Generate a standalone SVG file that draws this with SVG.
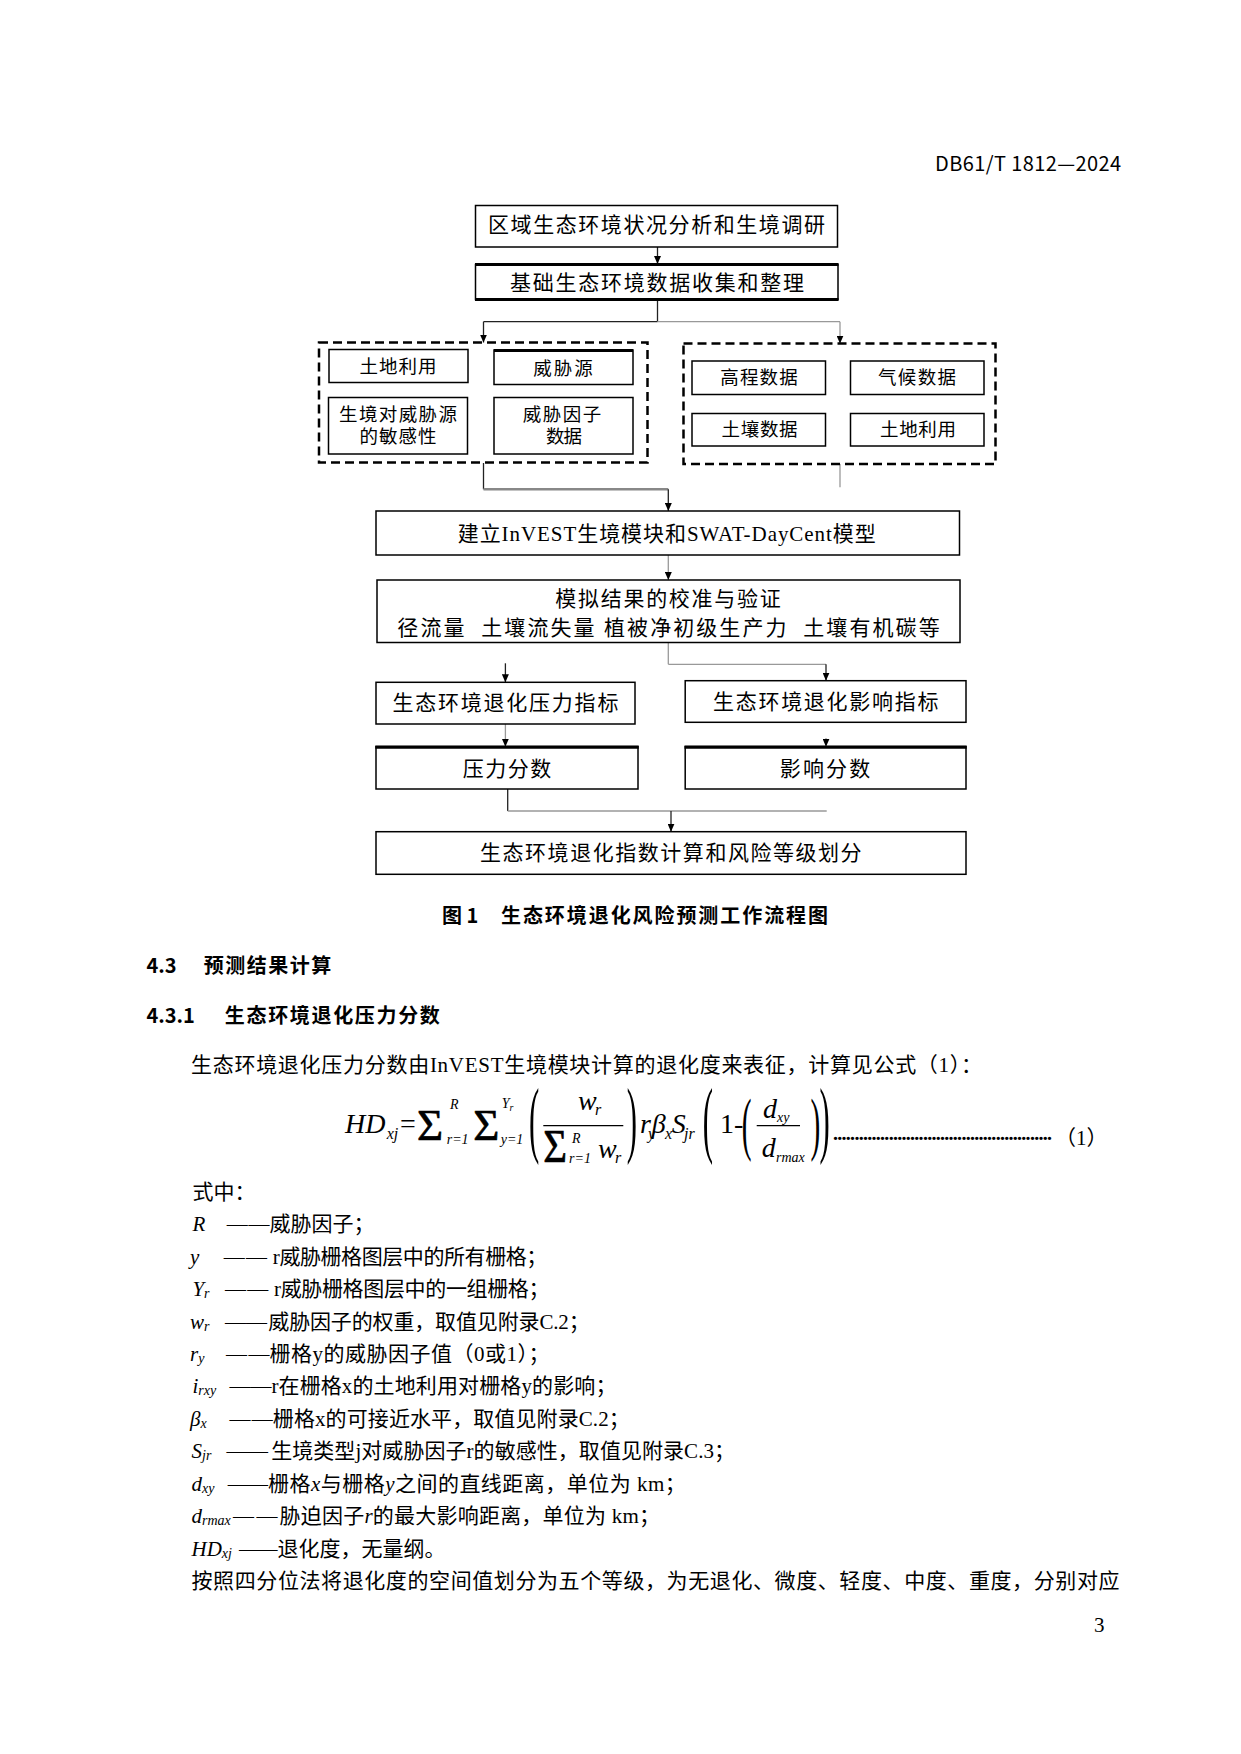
<svg xmlns="http://www.w3.org/2000/svg" width="1241" height="1754" viewBox="0 0 1241 1754">
<defs>
<style>
.bx{fill:#fff;stroke:#000;stroke-width:1.5}
.thick{stroke:#000;stroke-width:3.2}
.dsh{fill:none;stroke:#000;stroke-width:2.5;stroke-dasharray:9 5}
.t{font-family:"Liberation Serif","Noto Sans CJK SC",serif;font-size:21px;fill:#000;dominant-baseline:central}
.ti{font-family:"Liberation Serif","Noto Sans CJK SC",serif;font-size:18.5px;fill:#000;dominant-baseline:central}
.mid{text-anchor:middle}
.h{font-family:"Noto Sans CJK SC","Liberation Sans",sans-serif;font-size:20px;fill:#000;dominant-baseline:central}
.b{font-weight:bold}
.it{font-style:italic}
.sym{font-family:"Liberation Serif",serif;font-style:italic;font-size:21px;dominant-baseline:central}
.sb{font-size:14px}
.fm{font-family:"Liberation Serif",serif;font-style:italic;font-size:28px;fill:#000}
.fu{font-family:"Liberation Serif",serif;font-size:28px;fill:#000}
.fs{font-family:"Liberation Serif",serif;font-style:italic;font-size:16px;fill:#000}
.fss{font-family:"Liberation Serif",serif;font-style:italic;font-size:14px;fill:#000}
.sum{font-family:"Liberation Serif",serif;font-size:40px;fill:#000;stroke:#000;stroke-width:0.6}
.cn{fill:none;stroke:#222;stroke-width:1.3}
.cg{fill:none;stroke:#999;stroke-width:1.3}
.ar{marker-end:url(#ah)}
</style>
<marker id="ah" markerWidth="8" markerHeight="7" refX="8" refY="3.5" orient="auto" markerUnits="userSpaceOnUse">
<path d="M0,0 L8,3.5 L0,7 Z" fill="#000"/>
</marker>
</defs>
<rect width="1241" height="1754" fill="#fff"/>

<text class="h" x="1121" y="162" text-anchor="end" textLength="186" font-size="21">DB61/T 1812—2024</text>

<g id="connectors">
<line class="cn ar" x1="657.5" y1="247" x2="657.5" y2="264"/>
<line class="cn" x1="657.5" y1="300" x2="657.5" y2="321.7"/>
<line class="cn" x1="483.5" y1="321.7" x2="657.5" y2="321.7"/>
<line class="cg" x1="657.5" y1="321.7" x2="840" y2="321.7"/>
<line class="cn ar" x1="483.5" y1="321.7" x2="483.5" y2="342.5"/>
<line class="cg ar" x1="840" y1="321.7" x2="840" y2="343.5"/>
<line class="cn" x1="483.5" y1="463" x2="483.5" y2="489.3"/>
<line stroke="#888" stroke-width="2.4" x1="483.5" y1="489.3" x2="668.3" y2="489.3"/>
<line class="cn ar" x1="668.3" y1="489.3" x2="668.3" y2="511"/>
<line class="cg" x1="840" y1="464" x2="840" y2="487.3"/>
<line class="cg ar" x1="668.3" y1="555" x2="668.3" y2="580"/>
<line class="cg" x1="668.3" y1="642.7" x2="668.3" y2="664.3"/>
<line class="cg" x1="668.3" y1="664.3" x2="826" y2="664.3"/>
<line class="cn ar" x1="826" y1="664.3" x2="826" y2="680.7"/>
<line class="cn ar" x1="505.4" y1="663.3" x2="505.4" y2="682.3"/>
<line class="cg ar" x1="505.4" y1="724" x2="505.4" y2="746.7"/>
<line class="cg ar" x1="826" y1="738" x2="826" y2="746.7"/>
<line class="cn" x1="507.7" y1="789" x2="507.7" y2="811"/>
<line class="cg" x1="507.7" y1="811" x2="826.7" y2="811"/>
<line class="cn ar" x1="671" y1="811" x2="671" y2="831.7"/>
</g>

<g id="n1">
<rect class="bx" x="475.5" y="205.5" width="362" height="41.5"/>
<text class="t mid" x="656.5" y="224.5" textLength="337">区域生态环境状况分析和生境调研</text>
</g>
<g id="n2">
<rect class="bx" x="475.5" y="264.5" width="362.5" height="35"/>
<line class="thick" x1="475" y1="264.5" x2="838.5" y2="264.5"/>
<line class="thick" x1="475" y1="299.5" x2="838.5" y2="299.5"/>
<text class="t mid" x="657" y="283" textLength="294">基础生态环境数据收集和整理</text>
</g>

<g id="g-left">
<rect class="dsh" x="319" y="342.5" width="328.5" height="120"/>
<g id="n-land1">
<rect class="bx" x="329" y="349.5" width="139" height="33"/>
<text class="ti mid" x="398" y="367" textLength="77">土地利用</text>
</g>
<g id="n-threat">
<rect class="bx" x="494" y="350" width="139" height="34.5"/>
<line class="thick" x1="494" y1="350.5" x2="633" y2="350.5" stroke-width="2.4"/>
<text class="ti mid" x="563" y="369" textLength="59.5">威胁源</text>
</g>
<g id="n-sens">
<rect class="bx" x="328.5" y="397.5" width="139" height="56.5"/>
<text class="ti mid" x="398" y="415" textLength="118">生境对威胁源</text>
<text class="ti mid" x="398" y="436.5" textLength="77">的敏感性</text>
</g>
<g id="n-factor">
<rect class="bx" x="494" y="397.5" width="139" height="56.5"/>
<text class="ti mid" x="562" y="415" textLength="78.6">威胁因子</text>
<text class="ti mid" x="564" y="436.5" textLength="36">数据</text>
</g>
</g>

<g id="g-right">
<rect class="dsh" x="683.5" y="343.5" width="312" height="120.5"/>
<g id="n-dem">
<rect class="bx" x="692" y="361" width="133.5" height="33.5"/>
<text class="ti mid" x="759" y="378.3" textLength="77.6">高程数据</text>
</g>
<g id="n-climate">
<rect class="bx" x="850.5" y="361" width="133.5" height="33.5"/>
<text class="ti mid" x="917" y="378.3" textLength="78">气候数据</text>
</g>
<g id="n-soil">
<rect class="bx" x="692" y="413.5" width="133.5" height="32.5"/>
<text class="ti mid" x="759.6" y="430" textLength="76">土壤数据</text>
</g>
<g id="n-land2">
<rect class="bx" x="850.5" y="413.5" width="133.5" height="32.5"/>
<text class="ti mid" x="918" y="430" textLength="76">土地利用</text>
</g>
</g>

<g id="n3">
<rect class="bx" x="376" y="511" width="583.5" height="44"/>
<text class="t mid" x="666.7" y="534" font-size="22" textLength="418">建立InVEST生境模块和SWAT-DayCent模型</text>
</g>
<g id="n4">
<rect class="bx" x="377" y="580" width="583" height="62.5"/>
<text class="t mid" x="668" y="599" textLength="225.5">模拟结果的校准与验证</text>
<text class="t mid" x="668.5" y="628" textLength="542.4" xml:space="preserve">径流量  土壤流失量 植被净初级生产力  土壤有机碳等</text>
</g>
<g id="n5">
<rect class="bx" x="376" y="682.3" width="259" height="41.7"/>
<text class="t mid" x="505.4" y="703" textLength="226">生态环境退化压力指标</text>
</g>
<g id="n6">
<rect class="bx" x="685.2" y="680.7" width="280.8" height="41.6"/>
<text class="t mid" x="825.7" y="702" textLength="225.4">生态环境退化影响指标</text>
</g>
<g id="n7">
<rect class="bx" x="376" y="746.7" width="262" height="42.3"/>
<line class="thick" x1="375.3" y1="747.2" x2="638.7" y2="747.2"/>
<text class="t mid" x="507" y="769" textLength="88.3">压力分数</text>
</g>
<g id="n8">
<rect class="bx" x="685.2" y="746.7" width="280.8" height="42.3"/>
<line class="thick" x1="684.5" y1="747.2" x2="966.7" y2="747.2"/>
<text class="t mid" x="825" y="769" textLength="90.5">影响分数</text>
</g>
<g id="n9">
<rect class="bx" x="376" y="831.7" width="590" height="42.6"/>
<text class="t mid" x="670.8" y="853" textLength="381.6">生态环境退化指数计算和风险等级划分</text>
</g>

<text class="h b" y="914" font-size="21"><tspan x="442">图 1</tspan><tspan x="501" textLength="327">生态环境退化风险预测工作流程图</tspan></text>

<text class="h b" y="964"><tspan x="146.4">4.3</tspan><tspan x="203.8" textLength="127.5">预测结果计算</tspan></text>
<text class="h b" y="1014"><tspan x="146.4">4.3.1</tspan><tspan x="224.8" textLength="215">生态环境退化压力分数</tspan></text>

<text class="t" x="191" y="1064.5" textLength="791">生态环境退化压力分数由InVEST生境模块计算的退化度来表征，计算见公式（1）：</text>

<g id="formula">
<text class="fm" x="345" y="1133">HD</text>
<text class="fs" x="386.7" y="1139">xj</text>
<text class="fu" x="400" y="1133">=</text>
<text class="sum" transform="translate(417,1139.5) scale(1.12,1.12)">Σ</text>
<text class="fss" x="450" y="1109">R</text>
<text class="fss" x="446.7" y="1144">r=1</text>
<text class="sum" transform="translate(473.3,1139.5) scale(1.12,1.12)">Σ</text>
<text class="fss" x="501.7" y="1108">Y<tspan font-size="10" dy="3">r</tspan></text>
<text class="fss" x="500.7" y="1144">y=1</text>
<text class="fu" transform="translate(529,1146.8) scale(1.1,3.03)">(</text>
<text class="fm" x="578" y="1110">w</text>
<text class="fs" x="595" y="1115">r</text>
<line x1="543.3" y1="1125.7" x2="623.3" y2="1125.7" stroke="#000" stroke-width="1.2"/>
<text class="sum" transform="translate(543.3,1161.5) scale(1.02,1.15)">Σ</text>
<text class="fss" x="572" y="1143">R</text>
<text class="fss" x="569" y="1163">r=1</text>
<text class="fm" x="598" y="1158">w</text>
<text class="fs" x="615" y="1163">r</text>
<text class="fu" transform="translate(626.7,1146.8) scale(1.1,3.03)">)</text>
<text class="fm" x="640" y="1133">r</text>
<text class="fs" x="648" y="1139">y</text>
<text class="fm" x="651.7" y="1133">β</text>
<text class="fs" x="665" y="1139">x</text>
<text class="fm" x="671.7" y="1133">S</text>
<text class="fs" x="684" y="1139">jr</text>
<text class="fu" transform="translate(702.7,1146.8) scale(1.1,3.03)">(</text>
<text class="fu" x="720" y="1133">1-</text>
<text class="fu" transform="translate(741.7,1146.9) scale(1.05,2.52)">(</text>
<text class="fm" x="763" y="1118">d</text>
<text class="fss" x="777" y="1122">xy</text>
<line x1="756.7" y1="1125.7" x2="800" y2="1125.7" stroke="#000" stroke-width="1.2"/>
<text class="fm" x="761.7" y="1157">d</text>
<text class="fss" x="776" y="1162">rmax</text>
<text class="fu" transform="translate(810.5,1146.9) scale(1.05,2.52)">)</text>
<text class="fu" transform="translate(819.5,1146.8) scale(1.1,3.03)">)</text>
<text class="fu" x="832" y="1140" font-size="12" textLength="221">...................................................</text>
<text class="t" x="1055" y="1138">（1）</text>
</g>

<g id="where">
<text class="t" x="192.4" y="1191.7">式中：</text>

<text class="sym" x="192.4" y="1224.2">R</text>
<text class="t" x="226.8" y="1224.2" textLength="42.8">——</text>
<text class="t" x="269.6" y="1224.2">威胁因子；</text>

<text class="sym" x="190" y="1256.6">y</text>
<text class="t" x="223.7" y="1256.6" textLength="43.3">——</text>
<text class="t" x="272.8" y="1256.6" textLength="274.5">r威胁栅格图层中的所有栅格；</text>

<text class="sym" x="192.4" y="1289">Y<tspan class="sb" dy="4">r</tspan></text>
<text class="t" x="225" y="1289" textLength="43.3">——</text>
<text class="t" x="274" y="1289" textLength="275.5">r威胁栅格图层中的一组栅格；</text>

<text class="sym" x="190" y="1321.5">w<tspan class="sb" dy="4">r</tspan></text>
<text class="t" x="225" y="1321.5" textLength="42">——</text>
<text class="t" x="268.3" y="1321.5" textLength="321.4">威胁因子的权重，取值见附录C.2；</text>

<text class="sym" x="190" y="1354">r<tspan class="sb" dy="4">y</tspan></text>
<text class="t" x="226" y="1354" textLength="43.6">——</text>
<text class="t" x="269.6" y="1354" textLength="280">栅格y的威胁因子值（0或1）；</text>

<text class="sym" x="192.4" y="1386.4">i<tspan class="sb" dy="4">rxy</tspan></text>
<text class="t" x="229.5" y="1386.4" textLength="41.9">——</text>
<text class="t" x="271.4" y="1386.4" textLength="345">r在栅格x的土地利用对栅格y的影响；</text>

<text class="sym" x="190" y="1418.9">β<tspan class="sb" dy="4">x</tspan></text>
<text class="t" x="229.5" y="1418.9" textLength="43.3">——</text>
<text class="t" x="272.8" y="1418.9" textLength="357">栅格x的可接近水平，取值见附录C.2；</text>

<text class="sym" x="191.5" y="1451.3">S<tspan class="sb" dy="4">jr</tspan></text>
<text class="t" x="226.5" y="1451.3" textLength="41.5">——</text>
<text class="t" x="271.2" y="1451.3" textLength="463.8">生境类型j对威胁因子r的敏感性，取值见附录C.3；</text>

<text class="sym" x="191.5" y="1483.8">d<tspan class="sb" dy="4">xy</tspan></text>
<text class="t" x="227.8" y="1483.8" textLength="40.2">——</text>
<text class="t" x="268" y="1483.8" textLength="417.7">栅格<tspan class="it">x</tspan>与栅格<tspan class="it">y</tspan>之间的直线距离，单位为 km；</text>

<text class="sym" x="191.5" y="1516.2">d<tspan class="sb" dy="4">rmax</tspan></text>
<text class="t" x="233" y="1516.2" textLength="44.6">——</text>
<text class="t" x="279.5" y="1516.2" textLength="380.5">胁迫因子<tspan class="it">r</tspan>的最大影响距离，单位为 km；</text>

<text class="sym" x="191.5" y="1548.7">HD<tspan class="sb" dy="4">xj</tspan></text>
<text class="t" x="239" y="1548.7" textLength="38.6">——</text>
<text class="t" x="277.6" y="1548.7">退化度，无量纲。</text>

<text class="t" x="191.5" y="1581.1" textLength="928">按照四分位法将退化度的空间值划分为五个等级，为无退化、微度、轻度、中度、重度，分别对应</text>
</g>

<text class="t" x="1094" y="1625" font-size="20">3</text>
</svg>
